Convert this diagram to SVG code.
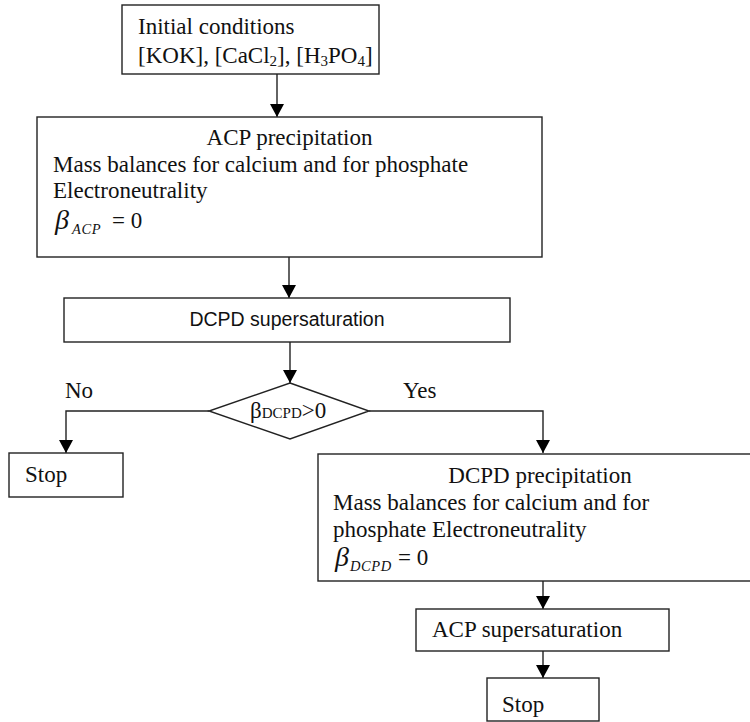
<svg xmlns="http://www.w3.org/2000/svg" width="750" height="722" viewBox="0 0 750 722">
<style>
.box{fill:#fff;stroke:#222;stroke-width:1.4}
.t{font-family:"Liberation Serif","Times New Roman",serif;font-size:23px;fill:#111}
.s{font-family:"Liberation Sans",Arial,sans-serif;font-size:19.5px;fill:#111}
.b{font-family:"Liberation Serif","Times New Roman",serif;font-size:28px;font-style:italic;fill:#111}
.sub{font-family:"Liberation Serif","Times New Roman",serif;font-size:14.5px;font-style:italic;letter-spacing:0.6px;fill:#111}
.c{fill:none;stroke:#222;stroke-width:1.4}
</style>
<defs>
<marker id="ah" markerUnits="userSpaceOnUse" markerWidth="14" markerHeight="14" refX="13" refY="7" orient="auto">
<path d="M0,0 L13,7 L0,14 Z" fill="#000"/>
</marker>
</defs>
<rect width="750" height="722" fill="#fff"/>
<g id="connectors">
<line class="c" x1="277" y1="74" x2="277" y2="117" marker-end="url(#ah)"/>
<line class="c" x1="289" y1="257" x2="289" y2="298" marker-end="url(#ah)"/>
<line class="c" x1="290" y1="342" x2="290" y2="383" marker-end="url(#ah)"/>
<polyline class="c" points="209,411 66,411 66,453" marker-end="url(#ah)"/>
<polyline class="c" points="369,411 543,411 543,453" marker-end="url(#ah)"/>
<line class="c" x1="543" y1="581" x2="543" y2="609" marker-end="url(#ah)"/>
<line class="c" x1="543" y1="651" x2="543" y2="678" marker-end="url(#ah)"/>
<text class="t" x="65" y="398">No</text>
<text class="t" x="403" y="398">Yes</text>
</g>
<g id="initial">
<rect class="box" x="122" y="5" width="257" height="69"/>
<text class="t" x="138" y="34">Initial conditions</text>
<text class="t" x="138" y="63">[KOK], [CaCl<tspan font-size="15" dy="3">2</tspan><tspan dy="-3">], [H</tspan><tspan font-size="15" dy="3">3</tspan><tspan dy="-3">PO</tspan><tspan font-size="15" dy="3">4</tspan><tspan dy="-3">]</tspan></text>
</g>
<g id="acp-precip">
<rect class="box" x="37" y="117" width="505" height="140"/>
<text class="t" x="289.5" y="145" text-anchor="middle">ACP precipitation</text>
<text class="t" x="53" y="172">Mass balances for calcium and for phosphate</text>
<text class="t" x="53" y="198">Electroneutrality</text>
<text class="b" x="55" y="229">β</text>
<text class="sub" x="72" y="234">ACP</text>
<text class="t" x="112" y="228">= 0</text>
</g>
<g id="dcpd-super">
<rect class="box" x="64" y="298" width="446" height="44"/>
<text class="s" x="287" y="326" text-anchor="middle">DCPD supersaturation</text>
</g>
<g id="decision">
<polygon class="box" points="290,383 369,411 290,439 209,411"/>
<text class="t" x="250" y="418" font-size="24">β<tspan font-size="15">DCPD</tspan>&gt;0</text>
</g>
<g id="stop1">
<rect class="box" x="9" y="453" width="114" height="44"/>
<text class="t" x="25" y="482">Stop</text>
</g>
<g id="dcpd-precip">
<rect class="box" x="318" y="454" width="440" height="127"/>
<text class="t" x="540" y="483" text-anchor="middle">DCPD precipitation</text>
<text class="t" x="333" y="510">Mass balances for calcium and for</text>
<text class="t" x="333" y="537">phosphate Electroneutrality</text>
<text class="b" x="335" y="566">β</text>
<text class="sub" x="350" y="571">DCPD</text>
<text class="t" x="398" y="565">= 0</text>
</g>
<g id="acp-super">
<rect class="box" x="416" y="609" width="253" height="42"/>
<text class="t" x="432" y="637">ACP supersaturation</text>
</g>
<g id="stop2">
<rect class="box" x="487" y="678" width="112" height="43"/>
<text class="t" x="502" y="712">Stop</text>
</g>
</svg>
